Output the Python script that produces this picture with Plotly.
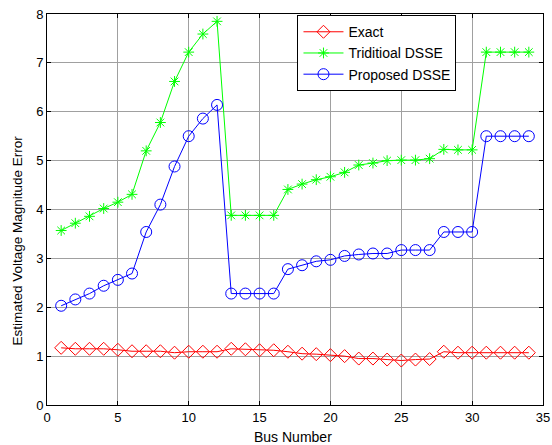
import plotly.graph_objects as go

bus = list(range(1, 35))
exact = [1.17, 1.15, 1.15, 1.15, 1.13, 1.10, 1.10, 1.10, 1.07, 1.09, 1.09, 1.09, 1.15,
         1.14, 1.12, 1.12, 1.09, 1.05, 1.04, 1.02, 1.00, 0.95, 0.95, 0.93, 0.91, 0.93,
         0.94, 1.09, 1.07, 1.07, 1.07, 1.07, 1.07, 1.07]
traditional = [3.57, 3.72, 3.86, 4.02, 4.15, 4.31, 5.20, 5.78, 6.62, 7.22, 7.59, 7.85,
               3.88, 3.88, 3.88, 3.88, 4.41, 4.52, 4.61, 4.67, 4.76, 4.91, 4.95, 5.00,
               5.01, 5.01, 5.04, 5.23, 5.22, 5.22, 7.22, 7.22, 7.22, 7.22]
proposed = [2.03, 2.16, 2.28, 2.44, 2.56, 2.69, 3.54, 4.10, 4.88, 5.50, 5.86, 6.14,
            2.28, 2.28, 2.28, 2.28, 2.78, 2.86, 2.94, 2.97, 3.05, 3.08, 3.10, 3.10,
            3.17, 3.17, 3.17, 3.54, 3.54, 3.54, 5.50, 5.50, 5.50, 5.50]

fig = go.Figure()
fig.add_trace(go.Scatter(x=bus, y=exact, name="Exact", mode="lines+markers",
                         line=dict(color="#ff0000", width=1),
                         marker=dict(symbol="diamond-open", size=10, color="#ff0000", line=dict(width=1))))
fig.add_trace(go.Scatter(x=bus, y=traditional, name="Triditioal DSSE", mode="lines+markers",
                         line=dict(color="#00ff00", width=1),
                         marker=dict(symbol="asterisk-open", size=9, color="#00ff00", line=dict(width=1, color="#00ff00"))))
fig.add_trace(go.Scatter(x=bus, y=proposed, name="Proposed DSSE", mode="lines+markers",
                         line=dict(color="#0000ff", width=1),
                         marker=dict(symbol="circle-open", size=11, color="#0000ff", line=dict(width=1))))

axis_common = dict(showline=True, linecolor="black", linewidth=1, mirror="ticks",
                   ticks="inside", ticklen=4, tickcolor="black", automargin=False,
                   showgrid=True, gridcolor="#a0a0a0", gridwidth=1, zeroline=False,
                   tickfont=dict(family="Liberation Sans, Arial", size=13, color="black"))

fig.update_layout(
    width=552, height=445,
    margin=dict(l=47, r=9, t=14, b=40),
    paper_bgcolor="white", plot_bgcolor="white",
    font=dict(family="Liberation Sans, Arial", size=13, color="black"),
    xaxis=dict(range=[0, 35], dtick=5, **axis_common),
    yaxis=dict(range=[0, 8], dtick=1, **axis_common),
    legend=dict(x=0.505, y=0.997, xanchor="left", yanchor="top",
                bgcolor="white", bordercolor="black", borderwidth=1,
                font=dict(size=14), tracegroupgap=0, itemwidth=40),
    showlegend=True,
    annotations=[
        dict(text="Estimated Voltage Magnitude Error", textangle=-90,
             xref="paper", yref="paper", x=-0.059, y=0.42,
             xanchor="center", yanchor="middle", showarrow=False,
             font=dict(size=13.5)),
        dict(text="Bus Number", xref="paper", yref="paper", x=0.495, y=-0.081,
             xanchor="center", yanchor="middle", showarrow=False,
             font=dict(size=14)),
    ],
)

fig.write_html("out.html")
